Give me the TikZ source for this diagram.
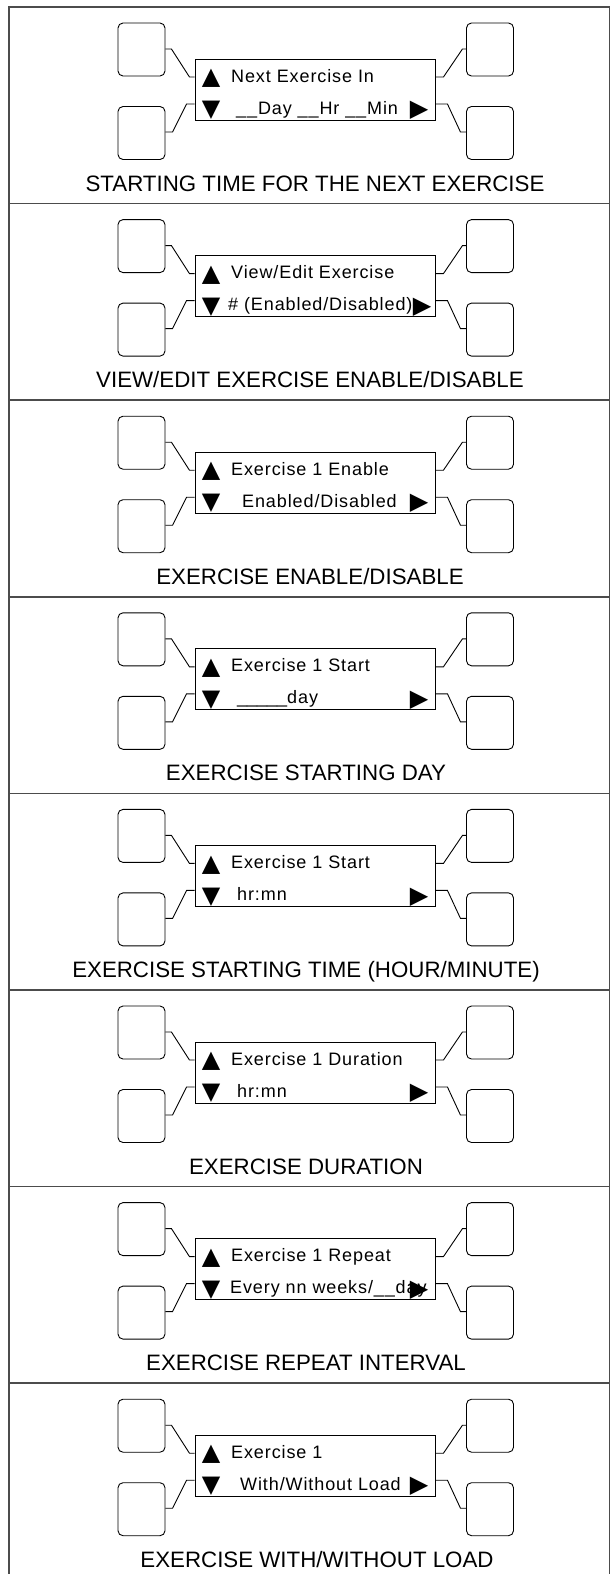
\documentclass[tikz,border=0pt]{standalone}
\usepackage{fontspec}
\setmainfont{Liberation Sans}
\newfontfamily\lcdfont[LetterSpace=5]{Liberation Sans}
\newfontfamily\plainfont{Liberation Sans}
\newfontfamily\symfont{DejaVu Sans}
\tikzset{
 btn/.style={draw, line width=0.9pt, rounded corners=5pt, minimum width=47pt, minimum height=53pt, inner sep=0pt},
 lcd/.style={draw, line width=0.9pt, minimum width=240pt, minimum height=61pt, inner sep=0pt},
 wire/.style={line width=0.9pt},
 frameline/.style={line width=1.6pt, draw=black!70},
 lcdtext/.style={anchor=base west, inner sep=0pt, font=\lcdfont\fontsize{18}{18}\selectfont},
 sym/.style={inner sep=0pt, font=\symfont\fontsize{24}{24}\selectfont},
 caption/.style={anchor=base, inner sep=0pt, font=\fontsize{22.3}{24}\selectfont},
}
% #1 idx, #2 yoff, #3 line1, #4 line2 x, #5 line2, #6 arrow x, #7 title x, #8 title
\newcommand\lcdpanel[8]{%
\begin{scope}[shift={(0,#2)}]
 \node[btn] (p#1tl) at (141.5,42.5) {};
 \node[btn] (p#1bl) at (141.5,126) {};
 \node[btn] (p#1tr) at (490,42.5) {};
 \node[btn] (p#1br) at (490,126) {};
 \node[lcd] (p#1box) at (315,82.5) {};
 \draw[wire] (p#1tl.east |- 0,42) -- ++(6,0) -- ++(18,28) -- (p#1box.west |- 0,70);
 \draw[wire] (p#1box.west |- 0,97) -- ++(-8,0) -- ++(-14,28) -- (p#1bl.east |- 0,125);
 \draw[wire] (p#1box.east |- 0,70) -- ++(8,0) -- ++(19,-28) -- (p#1tr.west |- 0,42);
 \draw[wire] (p#1box.east |- 0,97) -- ++(12,0) -- ++(13,28) -- (p#1br.west |- 0,125);
 \node[lcdtext] (p#1a) at (231,75) {#3};
 \node[lcdtext] (p#1b) at (#4,107) {#5};
 \node[sym] (p#1up) at (211,71.5) {▲};
 \node[sym] (p#1dn) at (211,103.5) {▼};
 \node[sym] (p#1rt) at (#6,103.5) {▶};
 \node[caption] (p#1cap) at (#7,184) {#8};
\end{scope}}
\begin{document}
\begin{tikzpicture}[x=1pt,y=-1pt]
\useasboundingbox (0,0) rectangle (611,1574);
\fill[white] (0,0) rectangle (611,1574);
\draw[frameline] (9,1600) -- (9,7) -- (609.5,7) -- (609.5,1600);
\foreach \k in {1,...,7} {
  \draw[frameline] (9,7+196.6*\k) -- (609.5,7+196.6*\k);
}
\lcdpanel{1}{7}{Next Exercise In}{236}{\_\_Day \_\_Hr \_\_Min}{419}{315}{STARTING TIME FOR THE NEXT EXERCISE}
\lcdpanel{2}{203.6}{View/Edit Exercise}{228}{\# (Enabled/Disabled)}{422}{310}{VIEW/EDIT EXERCISE ENABLE/DISABLE}
\lcdpanel{3}{400.2}{Exercise 1 Enable}{242}{Enabled/Disabled}{419}{310}{EXERCISE ENABLE/DISABLE}
\lcdpanel{4}{596.8}{Exercise 1 Start}{237}{{\plainfont\_\_\_\_\_}day}{419}{306}{EXERCISE STARTING DAY}
\lcdpanel{5}{793.4}{Exercise 1 Start}{237}{hr:mn}{419}{306}{EXERCISE STARTING TIME (HOUR/MINUTE)}
\lcdpanel{6}{990}{Exercise 1 Duration}{237}{hr:mn}{419}{306}{EXERCISE DURATION}
\lcdpanel{7}{1186.6}{Exercise 1 Repeat}{230}{Every nn weeks/\_\_day}{419}{306}{EXERCISE REPEAT INTERVAL}
\lcdpanel{8}{1383.2}{Exercise 1}{240}{With/Without Load}{419}{317}{EXERCISE WITH/WITHOUT LOAD}
\end{tikzpicture}
\end{document}
